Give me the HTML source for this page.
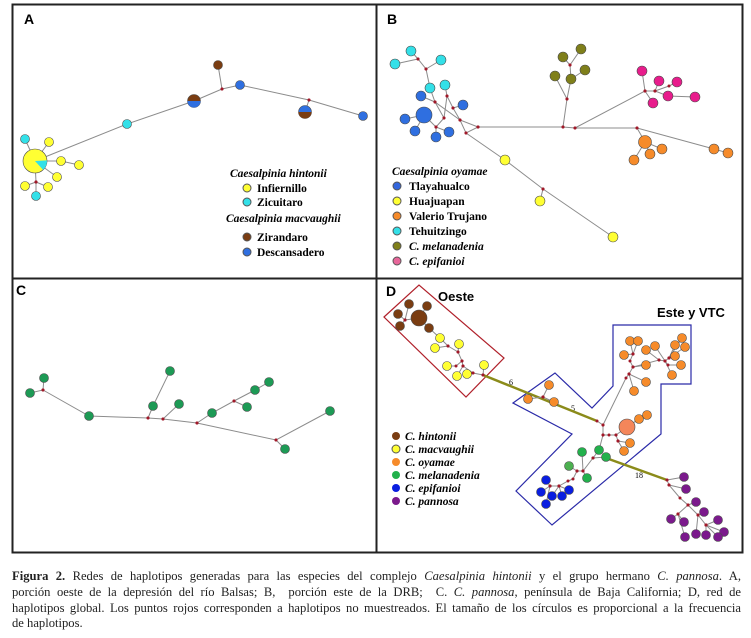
<!DOCTYPE html>
<html><head><meta charset="utf-8"><style>
html,body{margin:0;padding:0;background:#fff;width:751px;height:638px;overflow:hidden}
#cap{position:absolute;left:12px;top:569px;width:729px;font-family:"Liberation Serif",serif;font-size:12.6px;line-height:15.8px;color:#222}
#cap div{text-align:justify;text-align-last:justify;white-space:nowrap}
#cap div.last{text-align-last:left}
</style></head><body>
<svg id="fig" width="751" height="560" style="position:absolute;left:0;top:0" font-family="Liberation Serif, serif">
<rect x="12.5" y="4.5" width="730" height="548" fill="none" stroke="#222" stroke-width="2"/>
<line x1="376.5" y1="4" x2="376.5" y2="553" stroke="#222" stroke-width="2"/>
<line x1="12" y1="278.5" x2="743" y2="278.5" stroke="#222" stroke-width="2"/>
<g font-family="Liberation Sans, sans-serif" font-weight="bold" font-size="14">
<text x="24" y="24">A</text>
<text x="387" y="24">B</text>
<text x="16" y="295">C</text>
<text x="386" y="296">D</text>
</g>
<g id="pA"></g>
<g id="pB" transform="translate(376,0)"></g>
<g id="pC" transform="translate(0,270)"></g>
<g id="pD" transform="translate(376,278)">
<polygon points="8,39 43,7 128,80 90,119" fill="none" stroke="#b0202a" stroke-width="1.2"/>
<polygon points="137,125 179,95 216,130 237,108 237,47 315,47 315,106 285,106 285,156 176,247 140,213 196,156" fill="none" stroke="#2a2aa8" stroke-width="1.2"/>
<text x="62" y="23" font-family="Liberation Sans, sans-serif" font-weight="bold" font-size="13">Oeste</text>
<text x="281" y="39" font-family="Liberation Sans, sans-serif" font-weight="bold" font-size="13">Este y VTC</text>
<text x="133" y="107" font-size="8">6</text>
<text x="195" y="133" font-size="8">5</text>
<text x="259" y="200" font-size="8">18</text>
</g>
<g id="legA" font-weight="bold" font-size="11.5">
<text x="230" y="177" font-style="italic">Caesalpinia hintonii</text>
<circle cx="247" cy="188" r="4" fill="#ffff33" stroke="#555"/><text x="257" y="192">Infiernillo</text>
<circle cx="247" cy="202" r="4" fill="#33e0e8" stroke="#555"/><text x="257" y="206">Zicuitaro</text>
<text x="226" y="222" font-style="italic">Caesalpinia macvaughii</text>
<circle cx="247" cy="237" r="4" fill="#7a3d12" stroke="#555"/><text x="257" y="241">Zirandaro</text>
<circle cx="247" cy="252" r="4" fill="#2f6fe0" stroke="#555"/><text x="257" y="256">Descansadero</text>
</g>
<g id="legB" font-weight="bold" font-size="11.5">
<text x="392" y="175" font-style="italic">Caesalpinia oyamae</text>
<circle cx="397" cy="186" r="4" fill="#3366dd" stroke="#555"/><text x="409" y="190">Tlayahualco</text>
<circle cx="397" cy="201" r="4" fill="#ffff33" stroke="#555"/><text x="409" y="205">Huajuapan</text>
<circle cx="397" cy="216" r="4" fill="#f68b2a" stroke="#555"/><text x="409" y="220">Valerio Trujano</text>
<circle cx="397" cy="231" r="4" fill="#33e0e8" stroke="#555"/><text x="409" y="235">Tehuitzingo</text>
<circle cx="397" cy="246" r="4" fill="#7f7f1a" stroke="#555"/><text x="409" y="250" font-style="italic">C. melanadenia</text>
<circle cx="397" cy="261" r="4" fill="#e8669a" stroke="#555"/><text x="409" y="265" font-style="italic">C. epifanioi</text>
</g>
<g id="legD" font-weight="bold" font-style="italic" font-size="11.5">
<circle cx="396" cy="436" r="4" fill="#7a3d12"/><text x="405" y="440">C. hintonii</text>
<circle cx="396" cy="449" r="4" fill="#ffff33" stroke="#555"/><text x="405" y="453">C. macvaughii</text>
<circle cx="396" cy="462" r="4" fill="#f68b2a"/><text x="405" y="466">C. oyamae</text>
<circle cx="396" cy="475" r="4" fill="#22b14c"/><text x="405" y="479">C. melanadenia</text>
<circle cx="396" cy="488" r="4" fill="#0a1ee0"/><text x="405" y="492">C. epifanioi</text>
<circle cx="396" cy="501" r="4" fill="#7b1a8c"/><text x="405" y="505">C. pannosa</text>
</g>
</svg>
<div id="cap">
<div><b>Figura 2.</b> Redes de haplotipos generadas para las especies del complejo <i>Caesalpinia hintonii</i> y el grupo hermano <i>C. pannosa</i>. A,</div>
<div>porción oeste de la depresión del río Balsas; B,&nbsp; porción este de la DRB;&nbsp; C. <i>C. pannosa</i>, península de Baja California; D, red de</div>
<div>haplotipos global. Los puntos rojos corresponden a haplotipos no muestreados. El tamaño de los círculos es proporcional a la frecuencia</div>
<div class="last">de haplotipos.</div>
</div>
<script>
const NS='http://www.w3.org/2000/svg';
const Y='#ffff33',CY='#33e0e8',BR='#7a3d12',BL='#2f6fe0',OL='#7f7f1a',PK='#e81c8c',OR='#f68b2a',GR='#22b14c',DB='#0a1ee0',PU='#7b1a8c',CG='#1d9a55';
// Panel A
const linksA=[[[35,161],[127,124],[194,101],[222,89],[240,85],[309,100],[363,116]],[[222,89],[218,65]],[[309,100],[305,112]],
[[35,161],[25,139]],[[35,161],[49,142]],[[35,161],[61,161],[79,165]],[[35,161],[57,177]],[[35,161],[36,182],[25,186]],[[36,182],[48,187]],[[36,182],[36,196]]];
const nodesA=[[127,124,4.5,CY],[240,85,4.5,BL],[218,65,4.5,BR],[363,116,4.5,BL],[25,139,4.5,CY],[49,142,4.5,Y],[61,161,4.5,Y],[79,165,4.5,Y],[57,177,4.5,Y],[25,186,4.5,Y],[48,187,4.5,Y],[36,196,4.5,CY]];
// Panel B
const linksB=[[[102,127],[187,127],[199,128],[261,128],[338,149],[352,153]],[[90,133],[129,160],[167,189],[237,237]],[[167,189],[164,201]],
[[199,128],[269,91],[266,71]],[[269,91],[279,91],[283,81]],[[279,91],[293,86],[301,82]],[[279,91],[292,96],[319,97]],[[269,91],[277,103]],
[[187,127],[191,99],[179,76]],[[191,99],[195,79],[194,65],[187,57]],[[194,65],[205,49]],[[195,79],[209,70]],
[[261,128],[269,142],[286,149]],[[269,142],[274,154]],[[269,142],[258,160]],
[[102,127],[84,120],[77,108],[71,96],[69,85]],[[77,108],[87,105]],[[84,120],[90,133],[102,127]],[[84,120],[59,102],[54,88]],[[59,102],[45,96]],
[[59,102],[68,118],[60,127],[48,115]],[[68,118],[71,96]],[[60,127],[73,132]],[[60,127],[60,137]],[[48,115],[29,119]],[[48,115],[39,131]],
[[54,88],[50,69],[42,59],[35,51]],[[42,59],[19,64]],[[50,69],[65,60]]];
const nodesB=[[35,51,5,CY],[19,64,5,CY],[65,60,5,CY],[54,88,5,CY],[69,85,5,CY],[45,96,5,BL],[48,115,8,BL],[29,119,5,BL],[39,131,5,BL],[60,137,5,BL],[73,132,5,BL],[87,105,5,BL],
[187,57,5,OL],[205,49,5,OL],[179,76,5,OL],[195,79,5,OL],[209,70,5,OL],
[266,71,5,PK],[283,81,5,PK],[301,82,5,PK],[292,96,5,PK],[319,97,5,PK],[277,103,5,PK],
[269,142,6.5,OR],[286,149,5,OR],[274,154,5,OR],[258,160,5,OR],[338,149,5,OR],[352,153,5,OR],
[129,160,5,Y],[164,201,5,Y],[237,237,5,Y]];
// Panel C
const linksC=[[[30,123],[43,120],[44,108]],[[43,120],[89,146],[148,148],[163,149],[197,153],[276,170],[330,141]],[[276,170],[285,179]],
[[148,148],[153,136],[170,101]],[[163,149],[179,134]],[[197,153],[212,143],[234,131],[255,120],[269,112]],[[234,131],[247,137]]];
const nodesC=[[44,108,4.5,CG],[30,123,4.5,CG],[89,146,4.5,CG],[153,136,4.5,CG],[170,101,4.5,CG],[179,134,4.5,CG],[212,143,4.5,CG],[255,120,4.5,CG],[269,112,4.5,CG],[247,137,4.5,CG],[330,141,4.5,CG],[285,179,4.5,CG]];
// Panel D
const thickD=[[[107,97],[221,143]],[[230,180],[291,202]]];
const linksD=[[[29,42],[43,40]],[[29,42],[33,26]],[[29,42],[22,36]],[[29,42],[24,48]],[[43,40],[51,28]],
[[43,40],[53,50],[64,60],[72,68],[82,74],[86,83],[87,88],[97,95],[107,97]],[[72,68],[59,70]],[[82,74],[83,66]],[[86,83],[80,88],[71,88]],[[87,88],[81,98]],[[97,95],[91,96]],[[107,97],[108,87]],
[[167,119],[173,107]],[[167,119],[152,121]],[[167,119],[178,124]],
[[221,143],[227,147],[227,157],[233,157],[240,157],[242,163]],[[240,157],[251,149],[263,141],[271,137]],[[242,163],[254,165]],[[242,163],[248,173]],
[[227,147],[250,100],[253,96],[257,89],[254,83],[257,76],[254,63]],[[257,76],[262,63]],[[257,89],[270,87]],[[253,96],[270,104]],[[253,96],[258,113]],[[257,76],[248,77]],
[[257,89],[283,82],[289,83],[293,80],[299,78]],[[283,82],[270,72]],[[289,83],[279,68]],[[293,80],[306,60]],[[293,80],[299,67]],[[293,80],[309,69]],[[289,83],[292,87],[305,87]],[[289,83],[296,97]],
[[227,157],[223,172],[217,180],[207,193],[201,193],[197,201],[192,203],[183,208],[174,208]],[[207,193],[206,174]],[[201,193],[193,188]],[[207,193],[211,200]],[[217,180],[230,179]],
[[183,208],[176,218]],[[183,208],[186,218]],[[183,208],[193,212]],[[174,208],[170,202]],[[174,208],[165,214]],[[174,208],[170,226]],
[[291,202],[293,207],[304,220],[312,227],[322,237],[330,247]],[[291,202],[308,199]],[[293,207],[310,211]],[[312,227],[320,224]],[[322,237],[328,234]],
[[312,227],[302,236],[295,241]],[[302,236],[308,244]],[[330,247],[342,242]],[[330,247],[348,254]],[[330,247],[342,259]],[[330,247],[330,257]],[[322,237],[320,256]],[[302,236],[309,259]]];
const nodesD=[[43,40,8,BR],[33,26,4.5,BR],[51,28,4.5,BR],[22,36,4.5,BR],[24,48,4.5,BR],[53,50,4.5,BR],
[64,60,4.5,Y],[59,70,4.5,Y],[83,66,4.5,Y],[71,88,4.5,Y],[81,98,4.5,Y],[91,96,4.5,Y],[108,87,4.5,Y],
[173,107,4.5,OR],[152,121,4.5,OR],[178,124,4.5,OR],
[254,63,4.5,OR],[262,63,4.5,OR],[270,72,4.5,OR],[279,68,4.5,OR],[248,77,4.5,OR],[270,87,4.5,OR],[306,60,4.5,OR],[299,67,4.5,OR],[309,69,4.5,OR],[299,78,4.5,OR],[305,87,4.5,OR],[296,97,4.5,OR],[270,104,4.5,OR],[258,113,4.5,OR],
[251,149,8,'#f4865a'],[263,141,4.5,OR],[271,137,4.5,OR],[254,165,4.5,OR],[248,173,4.5,OR],
[206,174,4.5,GR],[223,172,4.5,GR],[230,179,4.5,GR],[193,188,4.5,'#4cb050'],[211,200,4.5,GR],
[170,202,4.5,DB],[165,214,4.5,DB],[176,218,4.5,DB],[186,218,4.5,DB],[193,212,4.5,DB],[170,226,4.5,DB],
[308,199,4.5,PU],[310,211,4.5,PU],[320,224,4.5,PU],[328,234,4.5,PU],[342,242,4.5,PU],[295,241,4.5,PU],[308,244,4.5,PU],[348,254,4.5,PU],[342,259,4.5,PU],[330,257,4.5,PU],[320,256,4.5,PU],[309,259,4.5,PU]];

function mk(tag,attrs,parent){const e=document.createElementNS(NS,tag);for(const k in attrs)e.setAttribute(k,attrs[k]);parent.appendChild(e);return e;}
function drawLinks(g,links,color,w){
  links.forEach(pl=>{
    const e=mk('polyline',{points:pl.map(p=>p.join(',')).join(' '),fill:'none',stroke:color,'stroke-width':w},g);
    
    
  });
}
function drawDots(g,links){
  links.forEach(pl=>pl.forEach(p=>{
    const d=mk('circle',{cx:p[0],cy:p[1],r:1.5,fill:'#a01828'},g);
    
    
  }));
}
function drawNodes(g,nodes){
  nodes.forEach(n=>{
    const c=mk('circle',{cx:n[0],cy:n[1],r:n[2],fill:n[3],stroke:'#4a4a4a','stroke-width':0.6},g);
    
    
  });
}
function pie(g,cx,cy,r,c1,c2,frac,start){
  const base=mk('circle',{cx:cx,cy:cy,r:r,fill:c1,stroke:'#4a4a4a','stroke-width':0.6},g);
  
  
  const a0=start,a1=start+frac*2*Math.PI;
  const x0=cx+r*Math.cos(a0),y0=cy+r*Math.sin(a0),x1=cx+r*Math.cos(a1),y1=cy+r*Math.sin(a1);
  const w=mk('path',{d:`M${cx},${cy}L${x0},${y0}A${r},${r} 0 ${frac>0.5?1:0} 1 ${x1},${y1}Z`,fill:c2},g);
  
  
}
const gA=document.getElementById('pA'),gB=document.getElementById('pB'),gC=document.getElementById('pC'),gD=document.getElementById('pD');
const LC='#8c8c8c';
drawLinks(gA,linksA,LC,1);drawDots(gA,linksA);
pie(gA,35,161,12,Y,CY,0.14,-0.05);
pie(gA,194,101,6.5,BR,BL,0.5,0);
pie(gA,305,112,6.5,BL,BR,0.5,0);
drawNodes(gA,nodesA);
drawLinks(gB,linksB,LC,1);drawDots(gB,linksB);drawNodes(gB,nodesB);
drawLinks(gC,linksC,LC,1);drawDots(gC,linksC);drawNodes(gC,nodesC);
drawLinks(gD,thickD,'#8b8b1a',2.5);drawLinks(gD,linksD,LC,1);drawDots(gD,linksD);drawNodes(gD,nodesD);
</script>
</body></html>
